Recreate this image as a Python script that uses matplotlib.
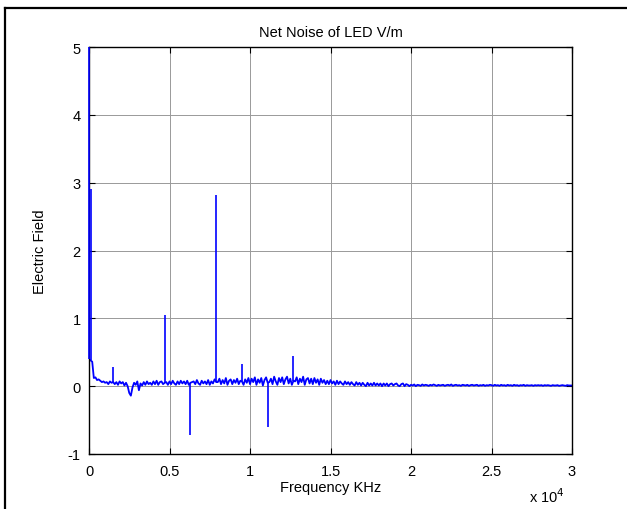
import numpy as np
import matplotlib
matplotlib.use("Agg")
import matplotlib.pyplot as plt
from matplotlib.ticker import FuncFormatter
from matplotlib.lines import Line2D

plt.rcParams['font.family'] = ['Liberation Sans', 'DejaVu Sans']
plt.rcParams['axes.unicode_minus'] = False

# фон шума: шаг 100 Гц, 0..30 кГц
freq_hz = np.arange(0, 30001, 100)
field = [
    # 0 - 1900
    0.40, 0.38, 0.36, 0.12, 0.13, 0.09, 0.10, 0.08, 0.06, 0.07,
    0.05, 0.06, 0.03, 0.07, 0.05, 0.06, 0.03, 0.06, 0.02, 0.07,
    # 2000 - 3900
    0.04, 0.06, 0.01, 0.05, 0.00, -0.10, -0.14, -0.02, 0.05, 0.02,
    0.07, -0.06, 0.04, 0.01, 0.06, 0.02, 0.07, 0.03, 0.05, 0.02,
    # 4000 - 5900
    0.07, 0.03, 0.08, 0.02, 0.06, 0.07, 0.03, 0.05, 0.06, 0.02,
    0.07, 0.03, 0.08, 0.04, 0.02, 0.07, 0.03, 0.08, 0.04, 0.07,
    # 6000 - 7900
    0.03, 0.08, 0.02, 0.05, 0.06, 0.07, 0.03, 0.09, 0.04, 0.02,
    0.08, 0.04, 0.07, 0.03, 0.09, 0.02, 0.07, 0.04, 0.10, 0.06,
    # 8000 - 9900
    0.06, 0.11, 0.03, 0.09, 0.04, 0.12, 0.02, 0.08, 0.10, 0.03,
    0.09, 0.05, 0.11, 0.03, 0.08, 0.07, 0.02, 0.10, 0.05, 0.12,
    # 10000 - 11900
    0.03, 0.11, 0.06, 0.13, 0.02, 0.10, 0.05, 0.12, 0.01, 0.09,
    0.13, 0.05, 0.06, 0.11, 0.03, 0.14, 0.07, 0.02, 0.12, 0.06,
    # 12000 - 13900
    0.13, 0.03, 0.10, 0.14, 0.04, 0.11, 0.02, 0.08, 0.07, 0.13,
    0.03, 0.11, 0.06, 0.14, 0.02, 0.10, 0.12, 0.04, 0.11, 0.03,
    # 14000 - 15900
    0.12, 0.05, 0.10, 0.02, 0.11, 0.05, 0.09, 0.03, 0.08, 0.03,
    0.09, 0.04, 0.07, 0.02, 0.08, 0.03, 0.07, 0.04, 0.02, 0.07,
    # 16000 - 17900
    0.03, 0.06, 0.02, 0.06, 0.03, 0.01, 0.06, 0.02, 0.05, 0.01,
    0.05, 0.02, 0.00, 0.05, 0.01, 0.04, 0.01, 0.05, 0.01, 0.04,
    # 18000 - 19900
    0.01, 0.04, 0.00, 0.04, 0.01, 0.04, 0.00, 0.03, 0.04, 0.01,
    0.03, 0.04, 0.01, 0.00, 0.03, 0.04, 0.00, 0.03, 0.02, 0.00,
    # 20000 - 21900
    0.02, 0.01, 0.025, 0.00, 0.02, 0.015, 0.005, 0.025, 0.01, 0.02,
    0.015, 0.005, 0.02, 0.01, 0.025, 0.015, 0.005, 0.02, 0.01, 0.015,
    # 22000 - 23900
    0.02, 0.005, 0.015, 0.02, 0.01, 0.025, 0.005, 0.015, 0.02, 0.01,
    0.015, 0.005, 0.02, 0.015, 0.01, 0.02, 0.005, 0.015, 0.02, 0.01,
    # 24000 - 25900
    0.015, 0.02, 0.005, 0.015, 0.01, 0.02, 0.005, 0.015, 0.01, 0.02,
    0.015, 0.005, 0.02, 0.01, 0.015, 0.005, 0.02, 0.01, 0.015, 0.005,
    # 26000 - 27900
    0.02, 0.01, 0.015, 0.005, 0.02, 0.01, 0.015, 0.005, 0.015, 0.01,
    0.02, 0.005, 0.015, 0.01, 0.01, 0.015, 0.005, 0.015, 0.01, 0.015,
    # 28000 - 30000
    0.01, 0.015, 0.005, 0.015, 0.01, 0.015, 0.01, 0.005, 0.015, 0.01,
    0.01, 0.015, 0.005, 0.01, 0.015, 0.01, 0.005, 0.015, 0.01, 0.01,
    0.01,
]

# узкие пики (частота, Гц -> амплитуда)
spike_hz = [0, 100, 1500, 4700, 6300, 7900, 9500, 11100, 12700]
spike_val = [5.00, 2.90, 0.28, 1.05, -0.72, 2.82, 0.33, -0.60, 0.45]

x_ticks = [0, 5000, 10000, 15000, 20000, 25000, 30000]
y_ticks = [-1, 0, 1, 2, 3, 4, 5]

FS = 10.5

fig = plt.figure(figsize=(6.27, 5.10), dpi=100)
ax = fig.add_axes([89 / 627, 55 / 510, 483 / 627, 407 / 510])

ax.plot(freq_hz, field, color="#0000ff", lw=1.3)
base = np.interp(spike_hz, freq_hz, field)
# пики рисуем поверх рамки осей, чтобы линия на нуле была видна
ax.vlines(spike_hz, base, spike_val, color="#0000ff", lw=1.2,
          zorder=3, clip_on=False)

ax.set_xlim(0, 30000)
ax.set_ylim(-1, 5)
ax.set_xticks(x_ticks)
ax.set_yticks(y_ticks)
ax.xaxis.set_major_formatter(FuncFormatter(lambda v, p: f"{v / 1e4:g}"))
ax.grid(True, color="0.6", lw=0.7)
ax.tick_params(direction="in", length=4, width=0.8, labelsize=FS,
               top=True, right=True)
ax.tick_params(axis="x", pad=7)
ax.tick_params(axis="y", pad=6)
for s in ax.spines.values():
    s.set_linewidth(1.0)

ax.set_title("Net Noise of LED V/m", fontsize=FS, pad=8)
ax.set_xlabel("Frequency KHz", fontsize=FS, labelpad=2)
ax.set_ylabel("Electric Field", fontsize=FS, labelpad=15)
fig.text(547 / 627, 1 - 497 / 510, r"x 10$^4$", fontsize=FS,
         ha="center", va="center")

# рамка вокруг рисунка (левый и верхний край)
fig.add_artist(Line2D([5 / 627, 5 / 627], [0, 1 - 9 / 510],
                      transform=fig.transFigure, color="black", lw=1.6))
fig.add_artist(Line2D([5 / 627, 1], [1 - 9 / 510, 1 - 9 / 510],
                      transform=fig.transFigure, color="black", lw=1.6))

fig.savefig("out.png", dpi=100)
